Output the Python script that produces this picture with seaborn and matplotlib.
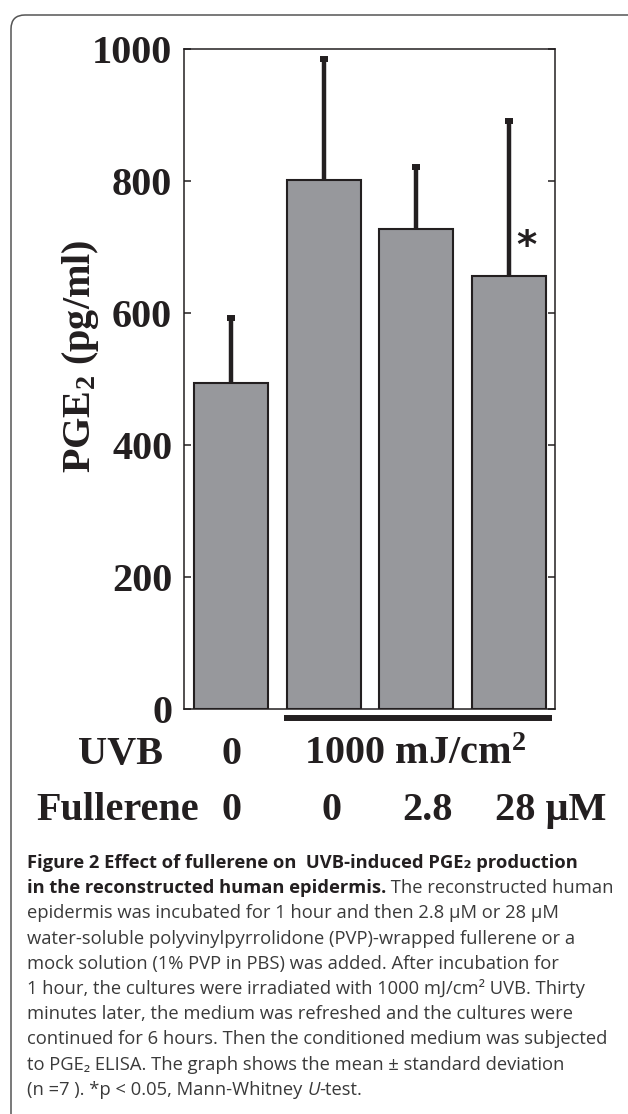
import matplotlib
matplotlib.use("Agg")
import matplotlib.pyplot as plt
import seaborn as sns
from matplotlib.patches import FancyBboxPatch
from matplotlib.transforms import IdentityTransform, blended_transform_factory

# data (PGE2, pg/ml)
conditions = ["UVB 0 / Ful 0", "UVB 1000 / Ful 0", "UVB 1000 / Ful 2.8", "UVB 1000 / Ful 28"]
pge2_mean = [494, 801, 727, 656]
pge2_sd = [98, 184, 94, 235]
y_ticks = [0, 200, 400, 600, 800, 1000]
uvb_labels = ["0", "1000 mJ/cm$^{\\mathbf{2}}$"]
fullerene_labels = ["0", "0", "2.8", "28 μM"]

bar_color = "#97989c"
ink = "#231f20"

sns.set_style("ticks")
plt.rcParams["font.family"] = ["Liberation Serif", "DejaVu Serif"]
plt.rcParams["mathtext.fontset"] = "custom"
plt.rcParams["mathtext.rm"] = "Liberation Serif:bold"
plt.rcParams["mathtext.bf"] = "Liberation Serif:bold"
plt.rcParams["mathtext.default"] = "bf"

W, H = 628, 1114
fig = plt.figure(figsize=(W / 100, H / 100), dpi=100)
ax = fig.add_axes([184 / W, 1 - 709 / H, 371 / W, 660 / H])

sns.barplot(x=conditions, y=pge2_mean, color=bar_color, saturation=1,
            edgecolor=ink, linewidth=1.5, width=0.8, errorbar=None, ax=ax)

# one-sided (upper) SD bars with square caps
eb = ax.errorbar(range(len(pge2_mean)), pge2_mean, yerr=[[0] * len(pge2_sd), pge2_sd],
                 fmt="none", ecolor=ink, elinewidth=3.2, capsize=2.8, capthick=4.3, zorder=4)
eb.lines[1][0].set_visible(False)

ax.set_xlim(-0.507, 3.497)
ax.set_ylim(0, 1000)
ax.set_yticks(y_ticks)
ax.set_yticklabels([str(t) for t in y_ticks], fontsize=29, fontweight="bold")
ax.tick_params(axis="y", direction="in", length=5, width=1.1, right=True, pad=8.5, colors=ink)
ax.tick_params(axis="x", bottom=False, labelbottom=False)
ax.set_xlabel("")
ax.set_ylabel("")
for sp in ax.spines.values():
    sp.set_visible(True)
    sp.set_linewidth(1.1)
    sp.set_color(ink)

ax.text(-0.28, 0.535, "PGE$_{\\mathbf{2}}$ (pg/ml)", transform=ax.transAxes, rotation=90,
        ha="center", va="center", fontsize=29, fontweight="bold", color=ink)

# significance mark
ax.text(3.19, 683, "*", family="DejaVu Sans", fontsize=28, fontweight="bold",
        ha="center", va="baseline", color=ink)

# thick bar marking the UVB-irradiated groups
trans = blended_transform_factory(ax.transData, ax.transAxes)
ax.plot([0.57, 3.46], [-0.0136, -0.0136], transform=trans, color=ink, lw=4.3,
        solid_capstyle="butt", clip_on=False)

# condition rows under the chart
row_kw = dict(fontsize=29, fontweight="bold", color=ink, va="baseline")
fig.text(120 / W, 1 - 764 / H, "UVB", ha="center", **row_kw)
for xpx, lab in zip([232, 415], uvb_labels):
    fig.text(xpx / W, 1 - 764 / H, lab, ha="center", **row_kw)
fig.text(36 / W, 1 - 820 / H, "Fullerene", ha="left", **row_kw)
for xpx, lab in zip([232, 331, 427, 551], fullerene_labels):
    fig.text(xpx / W, 1 - 820 / H, lab, ha="center", **row_kw)

# rounded frame of the figure panel
frame = FancyBboxPatch((11, -40), 700, H - 15 + 40, boxstyle="round,pad=0,rounding_size=14",
                       transform=IdentityTransform(), fill=False, ec="#555555", lw=1.1)
fig.add_artist(frame)

# caption
cap_font = ["Open Sans", "DejaVu Sans"]
cap_size = 13.2
bold_kw = dict(family=cap_font, fontsize=cap_size, fontweight="bold", color=ink)
reg_kw = dict(family=cap_font, fontsize=cap_size, color="#3a3a3a")
ital_kw = dict(family=cap_font, fontsize=cap_size, style="italic", color="#3a3a3a")
caption = [
    [("Figure 2 Effect of fullerene on  UVB-induced PGE₂ production", bold_kw)],
    [("in the reconstructed human epidermis.", bold_kw), (" The reconstructed human", reg_kw)],
    [("epidermis was incubated for 1 hour and then 2.8 μM or 28 μM", reg_kw)],
    [("water-soluble polyvinylpyrrolidone (PVP)-wrapped fullerene or a", reg_kw)],
    [("mock solution (1% PVP in PBS) was added. After incubation for", reg_kw)],
    [("1 hour, the cultures were irradiated with 1000 mJ/cm² UVB. Thirty", reg_kw)],
    [("minutes later, the medium was refreshed and the cultures were", reg_kw)],
    [("continued for 6 hours. Then the conditioned medium was subjected", reg_kw)],
    [("to PGE₂ ELISA. The graph shows the mean ± standard deviation", reg_kw)],
    [("(n =7 ). *p < 0.05, Mann-Whitney ", reg_kw), ("U", ital_kw), ("-test.", reg_kw)],
]
renderer = fig.canvas.get_renderer()
for i, runs in enumerate(caption):
    ybase = 1 - (868 + 25.2 * i) / H
    xpx = 27
    for s, kw in runs:
        t = fig.text(xpx / W, ybase, s, va="baseline", ha="left", **kw)
        xpx = t.get_window_extent(renderer=renderer).x1

fig.savefig("out.png", dpi=100)
